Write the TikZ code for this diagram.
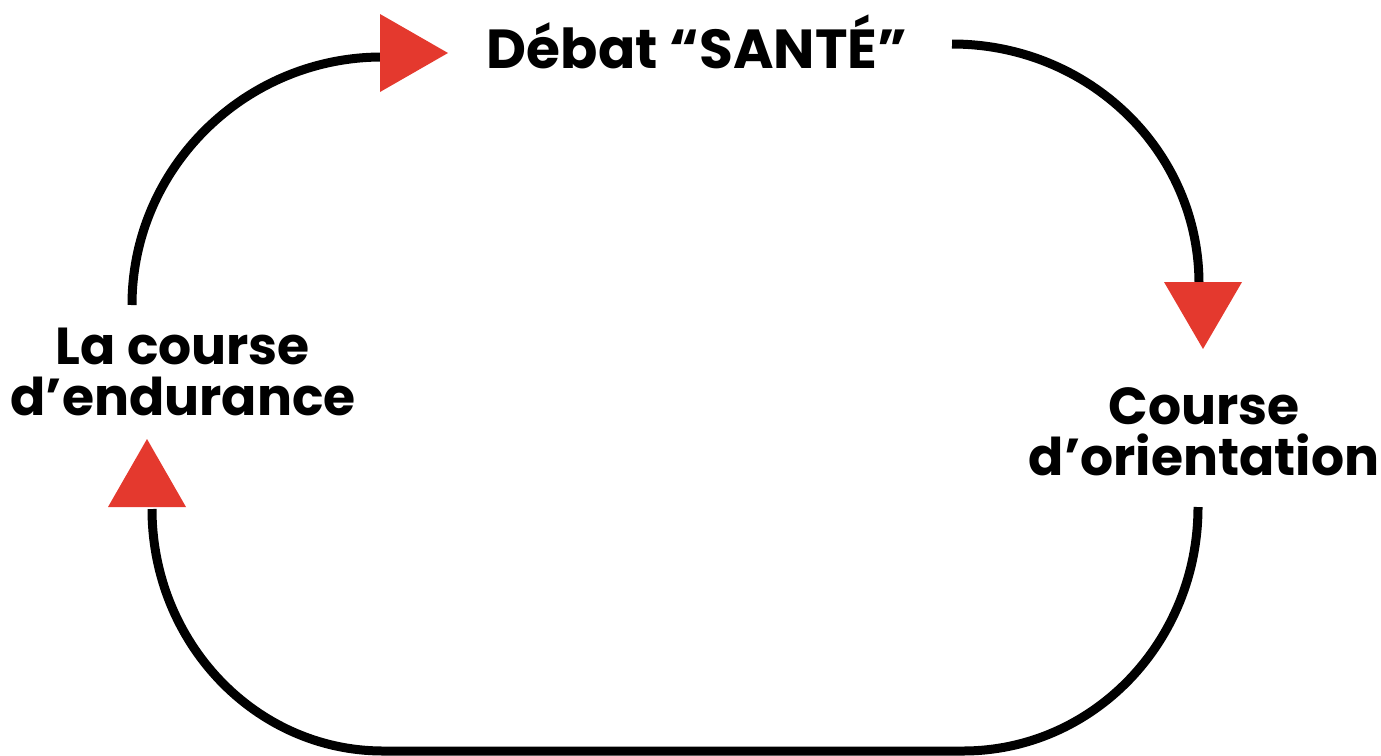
\documentclass[tikz,border=0pt]{standalone}
\usepackage{fontspec}
\setmainfont{Poppins}
\definecolor{tipred}{HTML}{E4392E}
\begin{document}
\begin{tikzpicture}[x=1pt,y=-1pt,
  loop/.style={line width=9pt,draw=black},
  tiphead/.style={fill=tipred},
  label/.style={font=\fontsize{52}{51}\selectfont\bfseries,align=center,inner sep=0pt,anchor=base}]
\useasboundingbox (0,0) rectangle (1381,755);

% stations (base anchor sits on the last line)
\node[label,font=\fontsize{55}{51}\selectfont\bfseries] (debat) at (697,68) {Débat “SANTÉ”};
\node[label] (endur) at (183,415) {La course\\d’endurance};
\node[label] (orient) at (1204,475) {Course\\d’orientation};

% path end points
\coordinate (tlA) at (132,305);
\coordinate (tlB) at (382,57);
\coordinate (trA) at (952,44);
\coordinate (trB) at (1199,284);
\coordinate (brA) at (1198,507);
\coordinate (blB) at (152,509);

% loop strokes
\draw[loop] (tlA) .. controls (132,168) and (245,57) .. (tlB);
\draw[loop] (trA) .. controls (1088,44) and (1199,150) .. (trB);
\draw[loop] (brA) .. controls (1198,642) and (1093,751) .. (963,751)
  -- (383,751) .. controls (255,751) and (152,642) .. (blB);

% arrow heads
\fill[tiphead] (380,14) -- (448,53) -- (380,92) -- cycle;
\fill[tiphead] (1164,282) -- (1242,282) -- (1203,349) -- cycle;
\fill[tiphead] (108,507) -- (186,507) -- (147,439) -- cycle;
\end{tikzpicture}
\end{document}
